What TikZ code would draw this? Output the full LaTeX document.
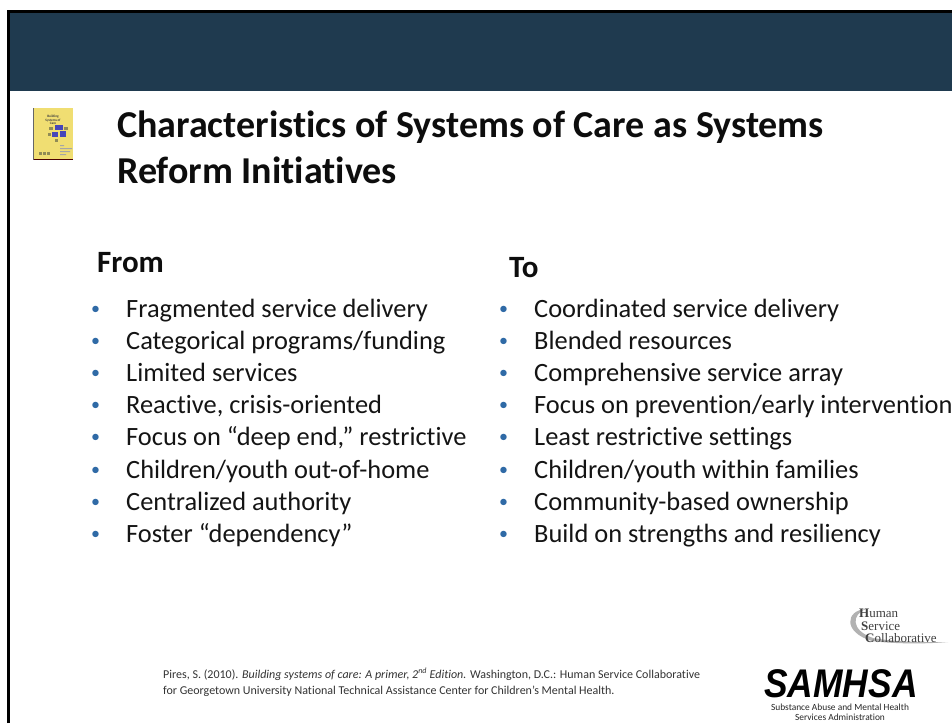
\documentclass[tikz,border=0pt]{standalone}
\usepackage{fontspec}
\setmainfont[Ligatures=CommonOff]{Carlito}
\newfontfamily\serifx{Liberation Serif}
\newfontfamily\logofont{Liberation Sans}
\definecolor{bandblue}{HTML}{1F3A4F}
\definecolor{bulletblue}{HTML}{2F6AA6}
\definecolor{bodyc}{HTML}{141414}
\definecolor{coverc}{HTML}{F0DE72}
\tikzset{
 x=1pt,y=-1pt,
 title/.style={anchor=base west,inner sep=0,font=\fontsize{38}{38}\bfseries\selectfont,text=black!95},
 head/.style={anchor=base west,inner sep=0,font=\fontsize{31}{31}\bfseries\selectfont,text=black!95},
 item/.style={anchor=base west,inner sep=0,font=\fontsize{26.4}{26.4}\selectfont,text=bodyc},
 bul/.style={anchor=base west,inner sep=0,font=\fontsize{18}{18}\selectfont,text=bulletblue},
 cite/.style={anchor=base west,inner sep=0,font=\fontsize{12}{12}\selectfont,text=black!80},
 hsc/.style={anchor=base west,inner sep=0,font=\serifx\fontsize{13}{13}\selectfont,text=black!75},
 subst/.style={anchor=base,inner sep=0,font=\fontsize{9.4}{9.4}\selectfont,text=black!85},
 tinybox/.style={fill=gray!60!olive},
}
\newcommand{\itemrow}[4]{%
 \node[bul] (b#1) at (#2-35,#3-3) {•};
 \node[item] (t#1) at (#2,#3) {#4};}
\begin{document}
\begin{tikzpicture}
\useasboundingbox (0,0) rectangle (952,723);
\fill[white] (0,0) rectangle (952,723);
\fill[bandblue] (8,11) rectangle (952,91);
\draw[black,line width=2.6pt] (8.3,723) -- (8.3,11.3) -- (952,11.3);
% book cover
\fill[coverc] (33,108) rectangle (73,159);
\fill[black!70!red] (33,158.5) rectangle (73,160);
\fill[black!60] (33,108) rectangle (34,160);
\fill[blue!45!gray] (55,125) rectangle (63,130);
\fill[blue!45!gray] (52,132) rectangle (58,137);
\fill[blue!45!gray] (60,131) rectangle (66,137);
\fill[tinybox] (49,127) rectangle (53,130);
\fill[tinybox] (64,127) rectangle (68,130);
\fill[tinybox] (48,133) rectangle (51,136);
\fill[tinybox] (55,139) rectangle (58,142);
\fill[tinybox] (39,152) rectangle (42,155);
\fill[tinybox] (43,152) rectangle (46,155);
\fill[tinybox] (47,152) rectangle (50,155);
\fill[gray!70] (60,145) rectangle (64,146) (60,148) rectangle (72,149) (60,151) rectangle (70,152) (60,154) rectangle (66,155);
\node[inner sep=0,font=\fontsize{3.4}{3.4}\bfseries\selectfont,align=center,text=black!75] (cover) at (53,120) {Building\\Systems of\\Care};
% title
\node[title] (t1) at (117,137) {Characteristics of Systems of Care as Systems};
\node[title] (t2) at (117,183) {Reform Initiatives};
% headers
\node[head] (from) at (97,272) {From};
\node[head] (to) at (509,277) {To};
% from list
\itemrow{a1}{126}{317}{Fragmented service delivery}
\itemrow{a2}{126}{349}{Categorical programs/funding}
\itemrow{a3}{126}{381}{Limited services}
\itemrow{a4}{126}{413}{Reactive, crisis-oriented}
\itemrow{a5}{126}{445}{Focus on “deep end,” restrictive}
\itemrow{a6}{126}{478}{Children/youth out-of-home}
\itemrow{a7}{126}{510}{Centralized authority}
\itemrow{a8}{126}{542}{Foster “dependency”}
% to list
\itemrow{c1}{534}{317}{Coordinated service delivery}
\itemrow{c2}{534}{349}{Blended resources}
\itemrow{c3}{534}{381}{Comprehensive service array}
\itemrow{c4}{534}{413}{Focus on prevention/early intervention}
\itemrow{c5}{534}{445}{Least restrictive settings}
\itemrow{c6}{534}{478}{Children/youth within families}
\itemrow{c7}{534}{510}{Community-based ownership}
\itemrow{c8}{534}{542}{Build on strengths and resiliency}
% citation
\node[cite] (c1x) at (163,678) {Pires, S. (2010). \textit{Building systems of care: A primer, 2\textsuperscript{nd} Edition.} Washington, D.C.: Human Service Collaborative};
\node[cite] (c2x) at (163,694) {for Georgetown University National Technical Assistance Center for Children’s Mental Health.};
% HSC logo
\fill[black!30] (866,609) .. controls (846,610) and (842,632) .. (872,641)
 .. controls (895,644) and (925,644) .. (948,642)
 .. controls (925,642.5) and (895,642) .. (873,638)
 .. controls (850,630) and (852,614) .. (866,609) -- cycle;
\node[hsc] (h1) at (859,617) {\textbf{H}uman};
\node[hsc] (h2) at (861,630) {\textbf{S}ervice};
\node[hsc] (h3) at (865,642) {\textbf{C}ollaborative};
% SAMHSA
\node[anchor=base,inner sep=0,font=\logofont\fontsize{40}{40}\bfseries\itshape\selectfont,text=black] (sam) at (841,697) {\scalebox{0.885}[1]{SAMHSA}};
\node[subst] (s1) at (840,710) {Substance Abuse and Mental Health};
\node[subst] (s2) at (840,720) {Services Administration};
\end{tikzpicture}
\end{document}
